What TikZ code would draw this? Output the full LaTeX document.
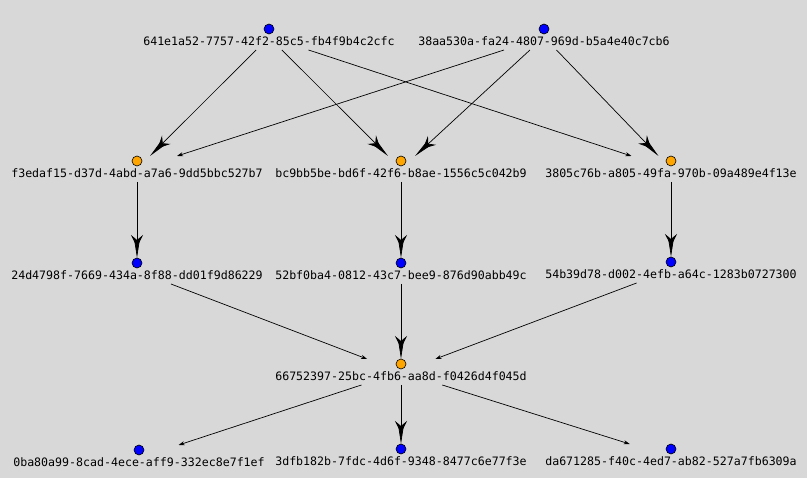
\documentclass[tikz,border=0pt]{standalone}
\usepackage{fontspec}
\newfontfamily\labfont{DejaVu Sans Mono}
\usetikzlibrary{arrows.meta}
\definecolor{bg}{RGB}{216,216,216}
\definecolor{vblue}{RGB}{0,0,255}
\definecolor{vorange}{RGB}{255,165,0}
\newcommand\myvtx[5]{%
  \node[vbox] (#1) at (#2,#3+8) {};
  \node[dot,fill=#4] (#1c) at (#2,#3) {};
  \node[lbl] (#1l) at (#2,#3+16.7) {#5};
}
\begin{document}
\begin{tikzpicture}[x=1pt,y=-1pt,
  vbox/.style={draw=none,rectangle,minimum width=252pt,minimum height=26pt,inner sep=0pt,outer sep=0pt},
  dot/.style={circle,draw=black,line width=0.6pt,minimum size=10pt,inner sep=0pt},
  lbl/.style={font=\labfont\fontsize{11.6}{13}\selectfont,inner sep=0pt,anchor=base},
  edgebig/.style={line width=0.7pt,-{Stealth[length=12pt,width=12pt,inset=5pt,sep=-6pt]Triangle[length=17pt,width=5pt]}},
  edgesmall/.style={line width=0.7pt,-{Stealth[length=6pt,width=4pt]}}
]
\fill[bg] (0,0) rectangle (807,478);
\useasboundingbox (0,0) rectangle (807,478);
\myvtx{A}{269}{29}{vblue}{641e1a52-7757-42f2-85c5-fb4f9b4c2cfc}
\myvtx{B}{544}{29}{vblue}{38aa530a-fa24-4807-969d-b5a4e40c7cb6}
\myvtx{C}{137}{161}{vorange}{f3edaf15-d37d-4abd-a7a6-9dd5bbc527b7}
\myvtx{D}{401}{161}{vorange}{bc9bb5be-bd6f-42f6-b8ae-1556c5c042b9}
\myvtx{E}{671}{161}{vorange}{3805c76b-a805-49fa-970b-09a489e4f13e}
\myvtx{F}{137}{263}{vblue}{24d4798f-7669-434a-8f88-dd01f9d86229}
\myvtx{G}{401}{263}{vblue}{52bf0ba4-0812-43c7-bee9-876d90abb49c}
\myvtx{H}{671}{262}{vblue}{54b39d78-d002-4efb-a64c-1283b0727300}
\myvtx{I}{401}{364}{vorange}{66752397-25bc-4fb6-aa8d-f0426d4f045d}
\myvtx{J}{139}{450}{vblue}{0ba80a99-8cad-4ece-aff9-332ec8e7f1ef}
\myvtx{K}{401}{449}{vblue}{3dfb182b-7fdc-4d6f-9348-8477c6e77f3e}
\myvtx{L}{671}{449}{vblue}{da671285-f40c-4ed7-ab82-527a7fb6309a}
\draw[edgebig] (A) -- (C);
\draw[edgebig] (A) -- (D);
\draw[edgesmall] (A) -- (E);
\draw[edgesmall] (B) -- (C);
\draw[edgebig] (B) -- (D);
\draw[edgebig] (B) -- (E);
\draw[edgebig] (C) -- (F);
\draw[edgebig] (D) -- (G);
\draw[edgebig] (E) -- (H);
\draw[edgesmall] (F) -- (I);
\draw[edgebig] (G) -- (I);
\draw[edgesmall] (H) -- (I);
\draw[edgesmall] (I) -- (J);
\draw[edgebig] (I) -- (K);
\draw[edgesmall] (I) -- (L);
\end{tikzpicture}
\end{document}
